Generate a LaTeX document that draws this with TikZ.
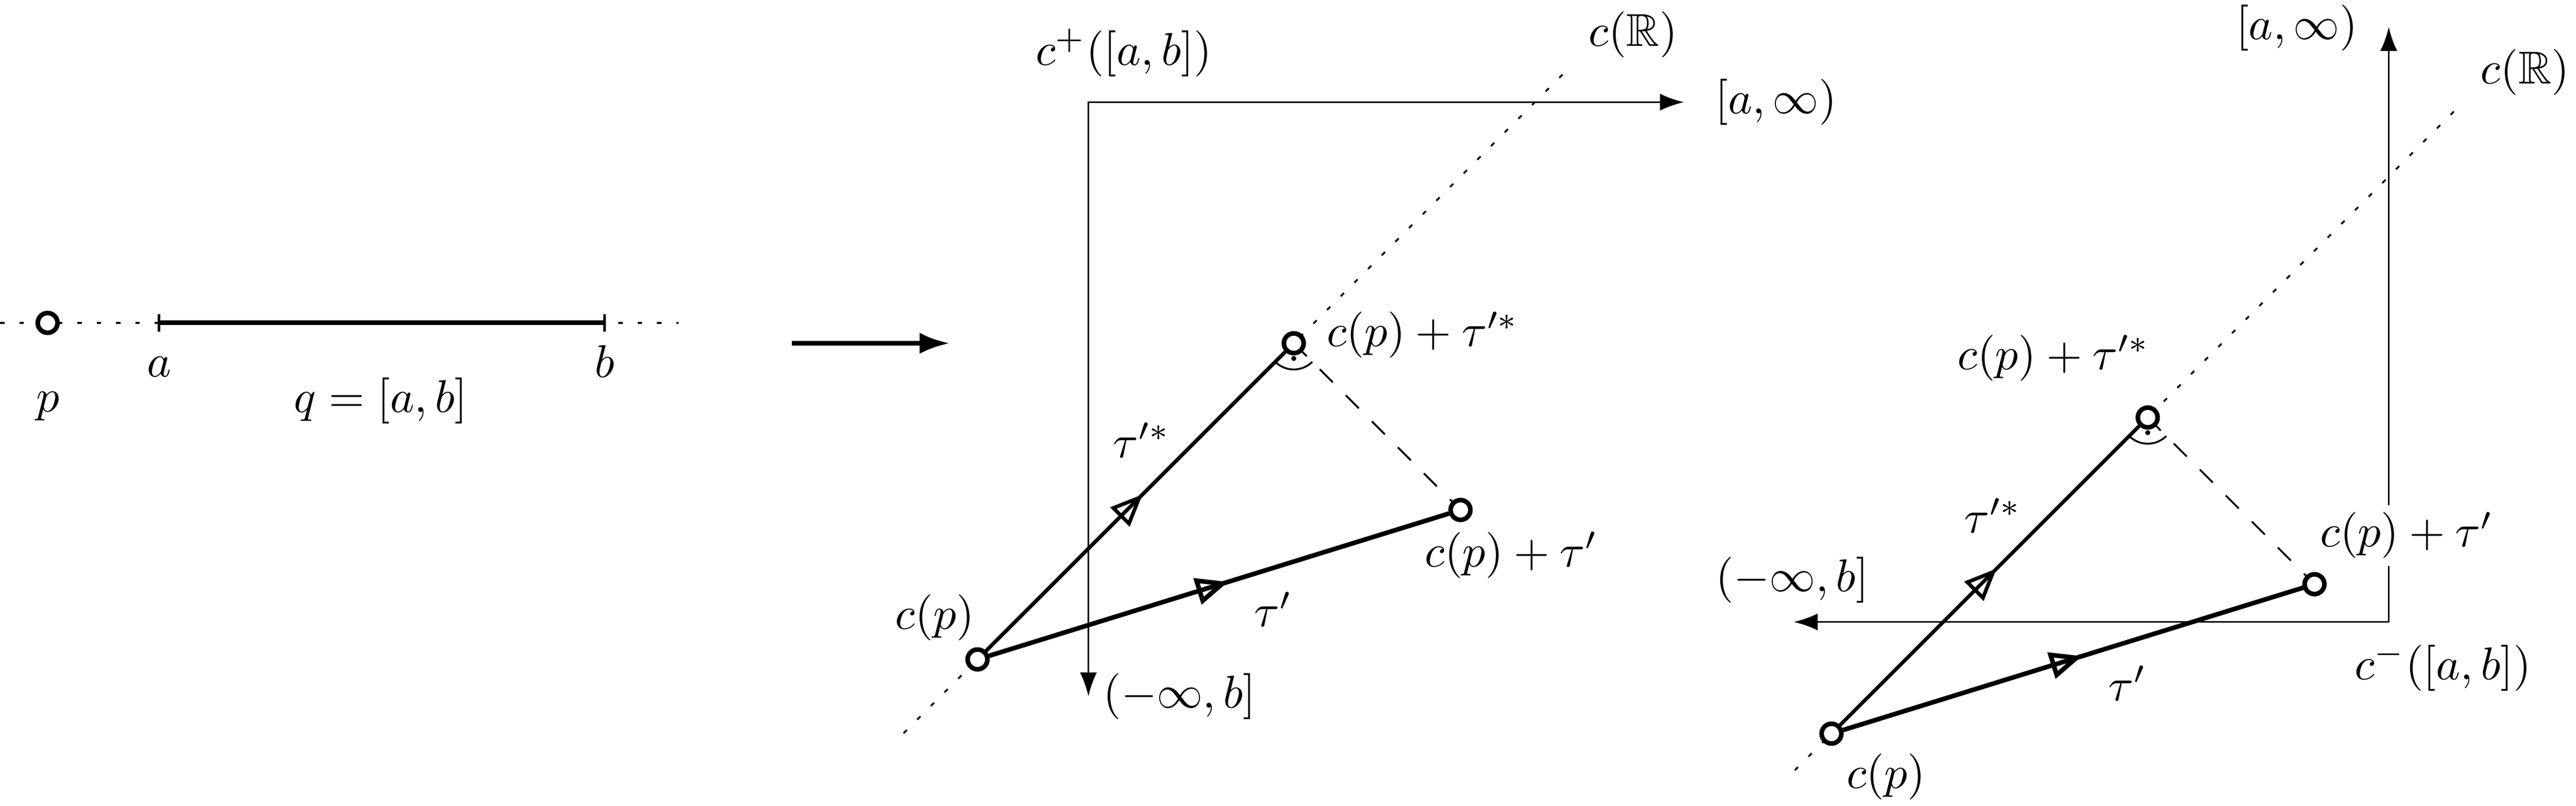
\documentclass[tikz,border=0pt]{standalone}
\usepackage{amssymb}
\usetikzlibrary{arrows.meta,decorations.markings,backgrounds,calc}
\begin{document}
\begin{tikzpicture}[x=0.35714pt,y=-0.35714pt,
  vtx/.style={circle,draw,fill=white,line width=1pt,inner sep=0pt,minimum size=4.3pt},
  dotline/.style={line width=0.4pt,dash pattern=on 1pt off 3.2pt},
  perpline/.style={line width=0.4pt,dash pattern=on 4pt off 4pt},
  axisline/.style={line width=0.4pt,{Latex[length=5.2pt,width=3.7pt]}-{Latex[length=5.2pt,width=3.7pt]}},
  thickseg/.style={line width=1pt},
  vecline/.style={postaction={decorate},
    decoration={markings,mark=at position #1 with {\arrow{Triangle[open,length=7pt,width=5.8pt]}}}},
  vecline/.default=0.52,
  whitelbl/.style={fill=white,inner sep=1.6pt}
]
\useasboundingbox (0,0) rectangle (1568,490.5);

% ---------- left: the line with p and q=[a,b]
\coordinate (L0) at (0,196.6);
\coordinate (L1) at (413,196.6);
\coordinate (A) at (96.8,196.6);
\coordinate (B) at (368,196.6);
\draw[dotline] (L0) -- (L1);
\draw[thickseg] (A) -- (B);
\draw[line width=0.5pt] ([yshift=1.9pt]A) -- ([yshift=-1.9pt]A);
\draw[line width=0.5pt] ([yshift=1.9pt]B) -- ([yshift=-1.9pt]B);
\node[vtx] (p) at (29,196.6) {};
\node (lp) at (29,247.4) {$p$};
\node (la) at (96.8,223.2) {$a$};
\node (lb) at (368,219.9) {$b$};
\node (lq) at (231.8,243.9) {$q=[a,b]$};

% ---------- main arrow
\coordinate (M0) at (482,209);
\coordinate (M1) at (578,209);
\draw[line width=1pt,-{Latex[length=6.5pt,width=4.6pt]}] (M0) -- (M1);

% ---------- middle picture
\coordinate (O1) at (662.5,62.2);
\coordinate (X1) at (1025,62.2);
\coordinate (Y1) at (662.5,424);
\draw[axisline] (X1) -- (O1) -- (Y1);
\node[vtx] (cp1) at (595,401.5) {};
\node[vtx] (ct1) at (889,310.5) {};
\node[vtx] (cs1) at (787.5,209) {};
\coordinate (r1a) at ($(cp1)+(-45,45)$);
\coordinate (r1b) at ($(cp1)+(357,-357)$);
\begin{scope}[on background layer]
  \draw[dotline] (r1a) -- (r1b);
  \draw[perpline] (cs1.center) -- (ct1.center);
\end{scope}
\draw[vecline=0.52,line width=1pt] (cp1) -- (ct1);
\draw[vecline=0.525,line width=0.8pt] (cp1) -- (cs1);
\draw[line width=0.4pt] ([shift={(225:5.7pt)}]cs1.center) arc[start angle=225,end angle=315,radius=5.7pt];
\fill ([yshift=-3.3pt]cs1.center) circle[radius=0.55pt];
\node (lc1) at (684,32) {$c^+([a,b])$};
\node (lr1) at (994,21) {$c(\mathbb{R})$};
\node (lx1) at (1081,62) {$[a,\infty)$};
\node (ls1) at (866,204) {$c(p)+\tau'^*$};
\node (lts1) at (695,268) {$\tau'^*$};
\node (ltp1) at (920,338) {$c(p)+\tau'$};
\node (lt1) at (775,371) {$\tau'$};
\node (lcp1) at (569,376) {$c(p)$};
\node (ly1) at (718,424) {$(-\infty,b]$};

% ---------- right picture
\coordinate (O2) at (1454,378.7);
\coordinate (X2) at (1091.8,378.7);
\coordinate (Y2) at (1454,16.4);
\draw[axisline] (X2) -- (O2) -- (Y2);
\node[vtx] (cp2) at (1114.8,446.7) {};
\node[vtx] (ct2) at (1408.8,355.7) {};
\node[vtx] (cs2) at (1307.3,254.2) {};
\coordinate (r2a) at ($(cp2)+(-22.3,22.3)$);
\coordinate (r2b) at ($(cp2)+(379,-379)$);
\begin{scope}[on background layer]
  \draw[dotline] (r2a) -- (r2b);
  \draw[perpline] (cs2.center) -- (ct2.center);
\end{scope}
\draw[vecline=0.52,line width=1pt] (cp2) -- (ct2);
\draw[vecline=0.525,line width=0.8pt] (cp2) -- (cs2);
\draw[line width=0.4pt] ([shift={(225:5.7pt)}]cs2.center) arc[start angle=225,end angle=315,radius=5.7pt];
\fill ([yshift=-3.3pt]cs2.center) circle[radius=0.55pt];
\node (lx2) at (1398,17) {$[a,\infty)$};
\node (lr2) at (1537,44) {$c(\mathbb{R})$};
\node (ls2) at (1250,218) {$c(p)+\tau'^*$};
\node (lts2) at (1213,314) {$\tau'^*$};
\node[whitelbl] (ltp2) at (1465,326) {$c(p)+\tau'$};
\node (lt2) at (1295,416) {$\tau'$};
\node (lcp2) at (1148,473) {$c(p)$};
\node (ly2) at (1091,353) {$(-\infty,b]$};
\node (lc2) at (1487,406) {$c^-([a,b])$};
\end{tikzpicture}
\end{document}
